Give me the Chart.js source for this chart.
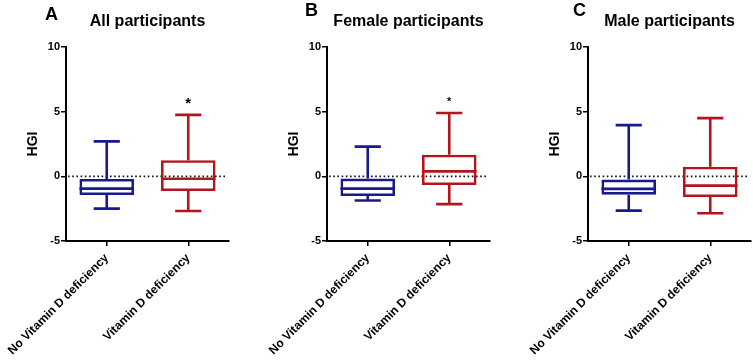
<!DOCTYPE html>
<html>
<head>
<meta charset="utf-8">
<script src="https://cdn.jsdelivr.net/npm/chart.js@4.4.1/dist/chart.umd.min.js"></script>
<style>
  body { margin: 0; background: #fff; width: 753px; height: 360px; overflow: hidden; position: relative; }
  canvas { position: absolute; top: 0; }
</style>
</head>
<body>
<canvas id="chartA" width="234" height="360" style="left:0px"></canvas>
<canvas id="chartB" width="234" height="360" style="left:261px"></canvas>
<canvas id="chartC" width="234" height="360" style="left:522px"></canvas>
<script>
// groups on the x axis
const categories = ['No Vitamin D deficiency', 'Vitamin D deficiency'];
const yTicks = [-5, 0, 5, 10];

// each box: [min, q1, median, q3, max]
const allBoxes = [[-2.5, -1.45, -0.95, -0.2, 2.7], [-2.68, -1.14, -0.19, 1.25, 4.75]];
const femaleBoxes = [[-1.87, -1.53, -0.95, -0.17, 2.3], [-2.15, -0.67, 0.38, 1.67, 4.9]];
const maleBoxes = [[-2.65, -1.42, -0.97, -0.25, 3.96], [-2.85, -1.6, -0.72, 0.75, 4.5]];

const allSig = ['', '*'];
const femaleSig = ['', '*'];
const maleSig = ['', ''];

const colors = ['#1a1a8f', '#b3151d'];
const font = 'Liberation Sans, Arial, sans-serif';

function boxPlugin(boxes, sig, letter, title, letterX, letterY, sigSize) {
  return {
    id: 'boxExtras',
    beforeDatasetsDraw(chart) {
      // dotted line at zero
      const { ctx, chartArea, scales } = chart;
      const y0 = scales.y.getPixelForValue(0);
      ctx.save();
      ctx.strokeStyle = '#111';
      ctx.lineWidth = 1.6;
      ctx.setLineDash([1.6, 2.6]);
      ctx.beginPath();
      ctx.moveTo(chartArea.left + 2, y0);
      ctx.lineTo(chartArea.right - 2, y0);
      ctx.stroke();
      ctx.restore();
    },
    afterDatasetsDraw(chart) {
      const { ctx, scales } = chart;
      const meta = chart.getDatasetMeta(0);
      ctx.save();
      meta.data.forEach((bar, i) => {
        const b = boxes[i];
        const half = bar.width / 2;
        const cap = bar.width * 0.24;
        const y = (v) => scales.y.getPixelForValue(v);
        ctx.strokeStyle = colors[i];
        ctx.lineWidth = 2.6;
        ctx.beginPath();
        // median
        ctx.moveTo(bar.x - half, y(b[2]));
        ctx.lineTo(bar.x + half, y(b[2]));
        // whiskers
        ctx.moveTo(bar.x, y(b[3]));
        ctx.lineTo(bar.x, y(b[4]));
        ctx.moveTo(bar.x - cap, y(b[4]));
        ctx.lineTo(bar.x + cap, y(b[4]));
        ctx.moveTo(bar.x, y(b[1]));
        ctx.lineTo(bar.x, y(b[0]));
        ctx.moveTo(bar.x - cap, y(b[0]));
        ctx.lineTo(bar.x + cap, y(b[0]));
        ctx.stroke();
        if (sig[i]) {
          ctx.fillStyle = '#000';
          ctx.font = 'bold ' + sigSize + 'px ' + font;
          ctx.textAlign = 'center';
          ctx.textBaseline = 'middle';
          ctx.fillText(sig[i], bar.x, y(b[4]) - 11);
        }
      });
      ctx.restore();
    },
    afterDraw(chart) {
      const { ctx, chartArea } = chart;
      ctx.save();
      ctx.fillStyle = '#000';
      ctx.textBaseline = 'middle';
      ctx.font = 'bold 18px ' + font;
      ctx.textAlign = 'left';
      ctx.fillText(letter, letterX, letterY);
      ctx.font = 'bold 16px ' + font;
      ctx.textAlign = 'center';
      ctx.fillText(title, (chartArea.left + chartArea.right) / 2, 22);
      ctx.restore();
    }
  };
}

function makeChart(id, boxes, sig, letter, title, letterX, letterY, sigSize) {
  const ctx = document.getElementById(id).getContext('2d');
  return new Chart(ctx, {
    type: 'bar',
    data: {
      labels: categories,
      datasets: [{
        data: boxes.map((b) => [b[1], b[3]]),
        backgroundColor: 'rgba(0,0,0,0)',
        borderColor: colors,
        borderWidth: 2.6,
        borderSkipped: false,
        categoryPercentage: 1,
        barPercentage: 0.67,
      }],
    },
    options: {
      responsive: false,
      animation: false,
      layout: { padding: { top: 47, left: 0, right: 5, bottom: 0 } },
      plugins: {
        legend: { display: false },
        tooltip: { enabled: false },
      },
      scales: {
        x: {
          offset: true,
          border: { color: '#000', width: 2 },
          grid: { offset: false, drawOnChartArea: false, drawTicks: true, tickLength: 5, color: '#000', lineWidth: 1.5 },
          ticks: {
            maxRotation: 45,
            minRotation: 45,
            color: '#000',
            padding: 5,
            font: { family: font, size: 12, weight: 'bold' },
          },
          afterFit: (s) => {
            s.height = 119;
            s.paddingLeft = 0;
            s.paddingRight = 0;
          },
        },
        y: {
          min: -5,
          max: 10,
          afterBuildTicks: (s) => { s.ticks = yTicks.map((v) => ({ value: v })); },
          border: { color: '#000', width: 2 },
          grid: { drawOnChartArea: false, drawTicks: true, tickLength: 5, color: '#000', lineWidth: 1.5 },
          ticks: {
            color: '#000',
            padding: 1,
            font: { family: font, size: 11, weight: 'bold' },
          },
          title: {
            display: true,
            text: 'HGI',
            color: '#000',
            font: { family: font, size: 14, weight: 'bold' },
            padding: { top: 25, bottom: 0 },
          },
          afterFit: (s) => { s.width = 66; },
        },
      },
    },
    plugins: [boxPlugin(boxes, sig, letter, title, letterX, letterY, sigSize)],
  });
}

makeChart('chartA', allBoxes, allSig, 'A', 'All participants', 45, 15, 15);
makeChart('chartB', femaleBoxes, femaleSig, 'B', 'Female participants', 44, 11, 11);
makeChart('chartC', maleBoxes, maleSig, 'C', 'Male participants', 51, 11, 15);
</script>
</body>
</html>
